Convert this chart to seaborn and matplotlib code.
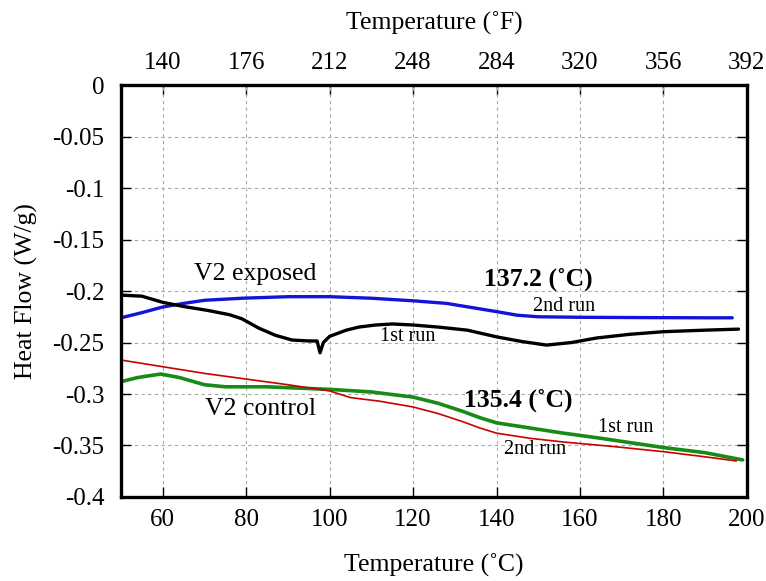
import matplotlib
matplotlib.use("Agg")
import matplotlib.pyplot as plt
import seaborn as sns
import pandas as pd

# Temperature (deg C) and heat flow (W/g) for each DSC run
exp1_t = [50, 55, 60, 65, 71, 76, 79, 83, 87, 91, 95, 97, 97.7, 98.5, 100, 104, 107, 111, 115, 120, 126, 133, 140, 146, 152, 158, 164, 172, 180, 190, 198]
exp1_q = [-0.204, -0.205, -0.211, -0.215, -0.219, -0.223, -0.227, -0.236, -0.243, -0.2476, -0.2485, -0.2485, -0.260, -0.250, -0.244, -0.238, -0.235, -0.233, -0.232, -0.233, -0.235, -0.238, -0.2445, -0.249, -0.2525, -0.250, -0.2456, -0.242, -0.2395, -0.238, -0.237]

exp2_t = [50, 55, 60, 65, 70, 79, 90, 100, 110, 120, 128, 134, 140, 145, 150, 160, 175, 190, 196.5]
exp2_q = [-0.226, -0.221, -0.2155, -0.212, -0.209, -0.207, -0.2055, -0.2055, -0.207, -0.2095, -0.212, -0.216, -0.220, -0.2235, -0.225, -0.2255, -0.2258, -0.226, -0.226]

ctl1_t = [50, 54, 59.5, 64, 70, 75, 85, 100, 110, 120, 126, 132, 136, 140, 148, 156, 165, 180, 190, 199]
ctl1_q = [-0.288, -0.284, -0.2806, -0.284, -0.291, -0.293, -0.293, -0.2955, -0.298, -0.303, -0.309, -0.317, -0.323, -0.328, -0.333, -0.338, -0.343, -0.352, -0.357, -0.364]

ctl2_t = [50, 60, 70, 80, 90, 100, 105, 112, 120, 126, 132, 136, 140, 148, 156, 168, 180, 190, 197.5]
ctl2_q = [-0.267, -0.2735, -0.280, -0.2855, -0.291, -0.297, -0.3035, -0.307, -0.3126, -0.319, -0.327, -0.333, -0.338, -0.343, -0.3466, -0.351, -0.356, -0.361, -0.365]

xticks_c = [60, 80, 100, 120, 140, 160, 180, 200]
xticks_f = [140, 176, 212, 248, 284, 320, 356, 392]
yticks = [0, -0.05, -0.1, -0.15, -0.2, -0.25, -0.3, -0.35, -0.4]
ytick_labels = ["0", "-0.05", "-0.1", "-0.15", "-0.2", "-0.25", "-0.3", "-0.35", "-0.4"]

sns.set_theme(style="ticks")
plt.rcParams["font.family"] = ["Liberation Serif", "DejaVu Serif"]
plt.rcParams["axes.unicode_minus"] = False
for key in ("text.color", "axes.labelcolor", "xtick.color", "ytick.color",
            "xtick.labelcolor", "ytick.labelcolor"):
    plt.rcParams[key] = "black"

fig = plt.figure(figsize=(7.66, 5.81), dpi=100)
ax = fig.add_axes([0.158, 0.1446, 0.817, 0.709])

series = [
    (exp2_t, exp2_q, "#1414d8", 2.4),
    (exp1_t, exp1_q, "black", 2.4),
    (ctl1_t, ctl1_q, "#178a17", 2.6),
    (ctl2_t, ctl2_q, "#c80000", 1.2),
]
for t, q, color, lw in series:
    df = pd.DataFrame({"T": t, "Q": q})
    sns.lineplot(data=df, x="T", y="Q", ax=ax, color=color, linewidth=lw, sort=False)

ax.set_xlim(50, 200)
ax.set_ylim(-0.4, 0)
ax.set_xticks(xticks_c)
ax.set_yticks(yticks)
ax.set_yticklabels(ytick_labels)
ax.grid(True, linestyle=(0, (3, 3)), color="#a8a8a8", linewidth=0.8)
ax.tick_params(direction="in", length=7, width=1, labelsize=18, right=True,
               color="black", labelcolor="black")
ax.tick_params(axis="x", pad=9)
ax.tick_params(axis="y", pad=12)
for s in ax.spines.values():
    s.set_linewidth(2.4)
    s.set_color("black")

ax.set_xlabel("Temperature (˚C)", fontsize=18.5, labelpad=16, color="black")
ax.set_ylabel("Heat Flow (W/g)", fontsize=18.5, labelpad=10, color="black")

top = ax.secondary_xaxis("top", functions=(lambda c: c * 9 / 5 + 32, lambda f: (f - 32) * 5 / 9))
top.set_xticks(xticks_f)
top.tick_params(direction="in", length=7, width=1, labelsize=18, pad=8,
                color="black", labelcolor="black")
top.set_xlabel("Temperature (˚F)", fontsize=18.5, labelpad=16, color="black")

ax.text(82.1, -0.1835, "V2 exposed", fontsize=18.5, ha="center", va="center", color="black")
ax.text(149.9, -0.189, "137.2 (˚C)", fontsize=18.5, fontweight="bold", ha="center", va="center", color="black")
ax.text(156.2, -0.2155, "2nd run", fontsize=14.5, ha="center", va="center", color="black")
ax.text(118.8, -0.2437, "1st run", fontsize=14.5, ha="center", va="center", color="black")
ax.text(83.5, -0.3146, "V2 control", fontsize=18.5, ha="center", va="center", color="black")
ax.text(145.1, -0.306, "135.4 (˚C)", fontsize=18.5, fontweight="bold", ha="center", va="center", color="black")
ax.text(171.0, -0.333, "1st run", fontsize=14.5, ha="center", va="center", color="black")
ax.text(149.2, -0.354, "2nd run", fontsize=14.5, ha="center", va="center", color="black")

fig.savefig("out.png", dpi=100)
